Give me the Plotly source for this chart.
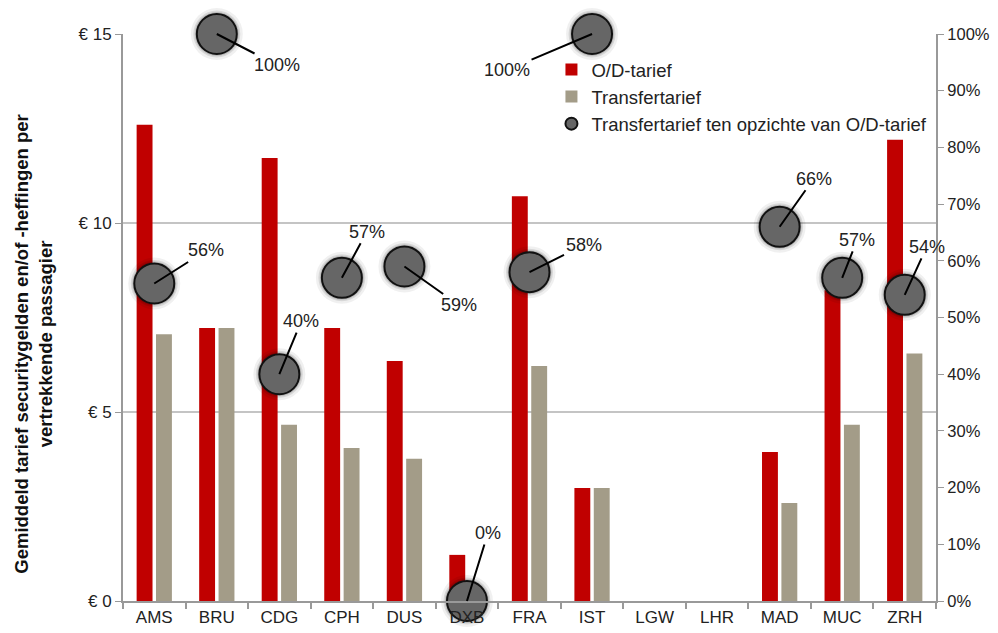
import plotly.graph_objects as go

categories = ["AMS", "BRU", "CDG", "CPH", "DUS", "DXB", "FRA", "IST", "LGW", "LHR", "MAD", "MUC", "ZRH"]
od_tarief = [12.6, 7.22, 11.72, 7.22, 6.35, 1.22, 10.71, 2.99, None, None, 3.94, 8.22, 12.2]
transfer_tarief = [7.06, 7.22, 4.66, 4.05, 3.76, 0.0, 6.22, 2.99, None, None, 2.59, 4.66, 6.55]
ratio = [0.56, 1.00, 0.40, 0.57, 0.59, 0.00, 0.58, 1.00, None, None, 0.66, 0.57, 0.54]
ratio_labels = ["56%", "100%", "40%", "57%", "59%", "0%", "58%", "100%", None, None, "66%", "57%", "54%"]
label_offsets = [(52, -33), (60, 31), (22, -53), (25, -46), (55, 39), (21, -68), (54, -27),
                 (-85, 36), None, None, (34, -48), (15, -38), (22, -48)]
y_ticks = [0, 5, 10, 15]
y_ticktext = ["€ 0", "€ 5", "€ 10", "€ 15"]
y_title = "<b>Gemiddeld tarief securitygelden en/of -heffingen per<br>vertrekkende passagier</b>"

FONT = "Liberation Sans, Arial, sans-serif"
fig = go.Figure()
fig.add_trace(go.Bar(x=categories, y=od_tarief, name="O/D-tarief",
                     marker=dict(color="#C00000", line=dict(width=0))))
fig.add_trace(go.Bar(x=categories, y=transfer_tarief, name="Transfertarief",
                     marker=dict(color="#A39C88", line=dict(width=0))))
# soft shadow behind the ratio markers
for sz, op in [(52, 0.06), (47, 0.10), (44, 0.14)]:
    fig.add_trace(go.Scatter(x=categories, y=ratio, yaxis="y2", mode="markers",
                             marker=dict(size=sz, color=f"rgba(0,0,0,{op})", line=dict(width=0)),
                             showlegend=False, hoverinfo="skip", cliponaxis=False))
fig.add_trace(go.Scatter(x=categories, y=ratio, yaxis="y2", mode="markers",
                         name="Transfertarief ten opzichte van O/D-tarief",
                         marker=dict(size=40, color="#666666", line=dict(color="#111111", width=2)),
                         cliponaxis=False))

for c, r, lab, off in zip(categories, ratio, ratio_labels, label_offsets):
    if r is None:
        continue
    fig.add_annotation(x=c, y=r, yref="y2", text=lab, showarrow=True, arrowhead=0,
                       arrowwidth=2, arrowcolor="#000000", ax=off[0], ay=off[1], standoff=0,
                       font=dict(family=FONT, size=18, color="#222222"))

# left axis title (placed as rotated text beside the axis)
fig.add_annotation(x=-0.11, y=0.453, xref="paper", yref="paper", text=y_title, textangle=-90,
                   showarrow=False, xanchor="center", yanchor="middle", align="center",
                   font=dict(family=FONT, size=18.5, color="#111111"))

fig.update_layout(
    width=998, height=633,
    margin=dict(l=115, r=70, t=26, b=40),
    paper_bgcolor="white", plot_bgcolor="white",
    barmode="group", bargap=0.38, bargroupgap=0.18,
    font=dict(family=FONT, size=17, color="#222222"),
    legend=dict(x=0.527, y=0.97, xanchor="left", yanchor="top", bgcolor="rgba(0,0,0,0)",
                font=dict(family=FONT, size=18.5, color="#222222"), tracegroupgap=0,
                itemwidth=30, itemsizing="constant"),
    xaxis=dict(type="category", range=[-0.5, len(categories) - 0.5], autorange=False,
               showline=True, linecolor="#999999", linewidth=2,
               ticks="outside", tickson="boundaries", ticklen=6, tickcolor="#999999",
               tickwidth=2, showgrid=False, tickfont=dict(size=17, color="#222222")),
    yaxis=dict(range=[0, 15], tickvals=y_ticks, ticktext=y_ticktext, showline=True,
               linecolor="#999999", linewidth=2, ticks="outside", ticklen=6, tickcolor="#999999",
               showgrid=True, gridcolor="#c4c4c4", gridwidth=2, zeroline=False,
               tickfont=dict(size=17, color="#222222")),
    yaxis2=dict(range=[0, 1], overlaying="y", side="right", dtick=0.1, tickformat=".0%",
                showline=True, linecolor="#999999", linewidth=2, ticks="outside", ticklen=6,
                tickcolor="#999999", showgrid=False, zeroline=False,
                tickfont=dict(size=16.5, color="#222222")),
)
fig.write_html("out.html")
